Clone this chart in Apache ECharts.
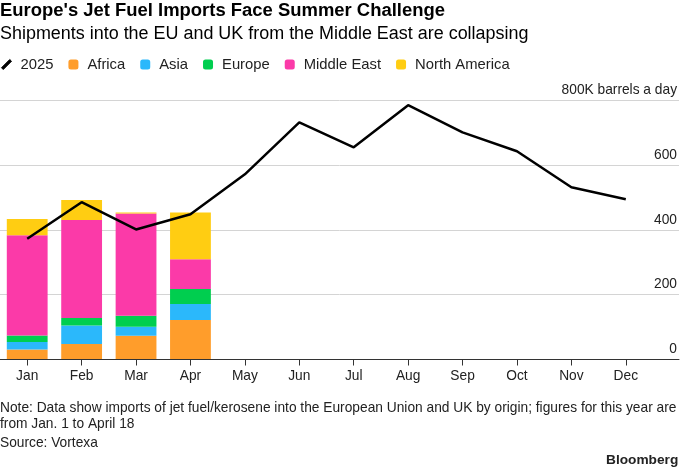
<!DOCTYPE html>
<html><head><meta charset="utf-8">
<style>html,body{margin:0;padding:0;background:#fff}#c{width:680px;height:471px}</style>
<script src="https://cdn.jsdelivr.net/npm/echarts@6/dist/echarts.min.js"></script></head>
<body><div id="c"></div>
<script>
const months=['Jan','Feb','Mar','Apr','May','Jun','Jul','Aug','Sep','Oct','Nov','Dec'];
const line2025=[372,485,401,448,571,731,654,784,700,642,531,494];
const africa=[31,48,73,122];
const asia=[23,57,28,49];
const europe=[20,23,34,46];
const middleEast=[309,302,315,92];
const northAmerica=[50,62,3,144];
const yTicks=[0,200,400,600,800];
const FONT='"Liberation Sans", Arial, sans-serif';
const bar=(name,data,color)=>({name,type:'bar',stack:'s',data,barWidth:'75%',itemStyle:{color},animation:false,z:2,xAxisIndex:0,yAxisIndex:0});
const txt=(text,left,top,size,weight,color,lh)=>({text,left,top,padding:0,textStyle:{fontFamily:FONT,fontSize:size,fontWeight:weight||'normal',color:color||'#000',lineHeight:lh||size+4}});
const chart=echarts.init(document.getElementById('c'),null,{renderer:'canvas'});
chart.setOption({
  animation:false,
  backgroundColor:'#fff',
  title:[
    txt("Europe's Jet Fuel Imports Face Summer Challenge",0,0,18.45,'bold'),
    txt('Shipments into the EU and UK from the Middle East are collapsing',0,23,17.95),
    txt('Note: Data show imports of jet fuel/kerosene into the European Union and UK by origin; figures for this year are\nfrom Jan. 1 to April 18',0,400,13.75,'normal','#222',16),
    txt('Source: Vortexa',0,435,13.75,'normal','#222',16),
    txt('Bloomberg',606,451,13.7,'bold','#222')
  ],
  legend:{
    left:1,top:57,padding:0,itemGap:15,itemWidth:10,itemHeight:10,
    textStyle:{fontFamily:FONT,fontSize:14.8,color:'#222',padding:[0,0,0,4]},
    data:[
      {name:'2025',icon:'path://M0 9.5 L2 11.5 L11.5 2 L9.5 0 Z',itemStyle:{color:'#000',borderColor:'#000',borderWidth:1}},
      {name:'Africa',icon:'roundRect'},{name:'Asia',icon:'roundRect'},{name:'Europe',icon:'roundRect'},{name:'Middle East',icon:'roundRect'},{name:'North America',icon:'roundRect'}
    ]
  },
  grid:[
    {left:0,width:653,top:100,bottom:111.5},
    {left:0,width:680,top:100,bottom:111.5}
  ],
  xAxis:[
    {gridIndex:0,type:'category',data:months,
      axisLine:{lineStyle:{color:'#333',width:1}},
      axisTick:{show:true,alignWithLabel:true,length:6,lineStyle:{color:'#333'}},
      axisLabel:{interval:0,margin:10,fontFamily:FONT,fontSize:13.75,color:'#222'},z:5},
    {gridIndex:1,type:'value',min:0,max:1,
      axisLine:{show:true,onZero:false,lineStyle:{color:'#333',width:1}},
      axisTick:{show:false},axisLabel:{show:false},splitLine:{show:false},z:5}
  ],
  yAxis:[
    {gridIndex:0,type:'value',min:yTicks[0],max:yTicks[4],interval:200,show:false,splitLine:{show:false}},
    {gridIndex:1,type:'value',position:'right',min:yTicks[0],max:yTicks[4],interval:200,
      axisLine:{show:false},axisTick:{show:false},
      splitLine:{lineStyle:{color:'#d4d4d4',width:1}},
      axisLabel:{inside:true,margin:2,verticalAlign:'bottom',padding:[0,0,3,0],fontFamily:FONT,fontSize:13.75,color:'#222',
        formatter:v=>v===800?'800K barrels a day':String(v)}}
  ],
  series:[
    bar('Africa',africa,'#ff9d2b'),
    bar('Asia',asia,'#2bb8fb'),
    bar('Europe',europe,'#00ce4f'),
    bar('Middle East',middleEast,'#fb3aa8'),
    bar('North America',northAmerica,'#ffcd12'),
    {name:'2025',type:'line',xAxisIndex:0,yAxisIndex:0,data:line2025,symbol:'none',showSymbol:false,lineStyle:{color:'#000',width:2.5},itemStyle:{color:'#000'},z:6,animation:false}
  ]
});
</script></body></html>
